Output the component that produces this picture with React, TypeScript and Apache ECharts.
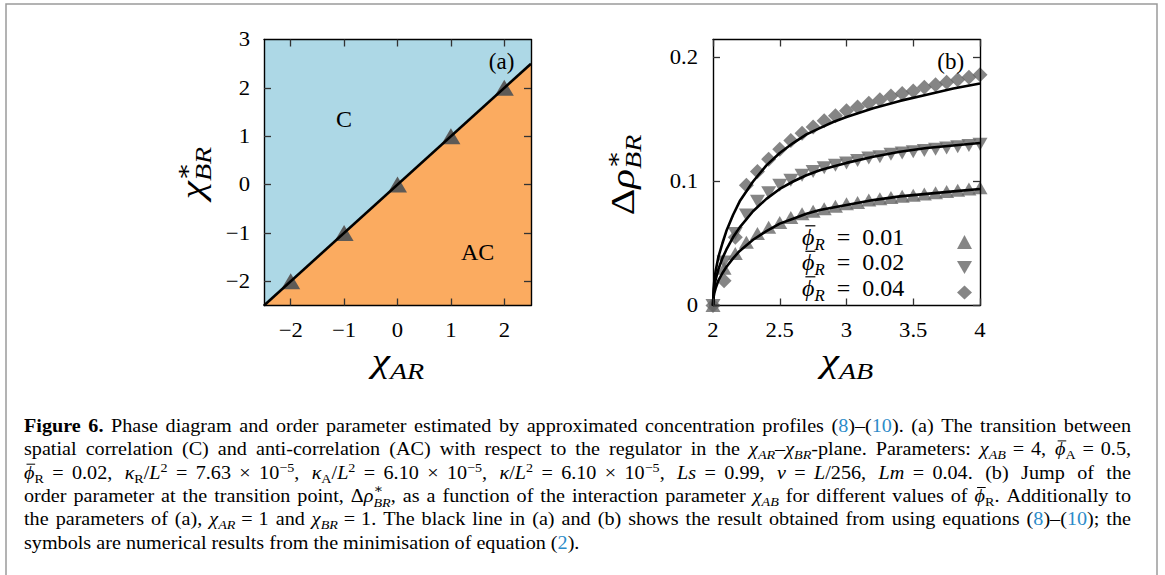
import React, { useEffect, useRef } from 'react';
import * as echarts from 'echarts';

const FONT = 'Liberation Serif, Times New Roman, DejaVu Serif, serif';
const LINK = '#2b8bc9';

// ---------- Panel (a) data ----------
const aXTicks = [-2, -1, 0, 1, 2];
const aYLabels = [-2, -1, 0, 1, 2, 3];
const aYTicks = [-2, -1, 0, 1, 2];
const aLineX = [-2.5, 2.5];
const aLineY = [-2.5, 2.5];
const aSymX = [-2, -1, 0, 1, 2];
const aSymY = [-2, -1, 0, 1, 2];

// ---------- Panel (b) data ----------
const bXTicks = [2, 2.5, 3, 3.5, 4];
const bYTicks = [0, 0.1, 0.2];
const bSymX = [2.0, 2.083, 2.167, 2.25, 2.333, 2.417, 2.5, 2.583, 2.667, 2.75, 2.833, 2.917, 3.0, 3.083, 3.167, 3.25, 3.333, 3.417, 3.5, 3.583, 3.667, 3.75, 3.833, 3.917, 4.0];
const bPhi001 = [0, 0.03, 0.042, 0.051, 0.058, 0.063, 0.067, 0.071, 0.074, 0.076, 0.078, 0.08, 0.082, 0.083, 0.085, 0.086, 0.087, 0.088, 0.089, 0.09, 0.091, 0.092, 0.093, 0.094, 0.095];
const bPhi002 = [0, 0.035, 0.058, 0.073, 0.084, 0.091, 0.097, 0.101, 0.105, 0.108, 0.111, 0.113, 0.115, 0.117, 0.119, 0.12, 0.122, 0.123, 0.124, 0.125, 0.126, 0.127, 0.128, 0.129, 0.13];
const bPhi004 = [0, 0.02, 0.055, 0.097, 0.108, 0.118, 0.126, 0.133, 0.139, 0.144, 0.149, 0.153, 0.157, 0.16, 0.163, 0.166, 0.169, 0.171, 0.173, 0.176, 0.178, 0.18, 0.182, 0.184, 0.186];
const bLineX = [2, 2.005, 2.01, 2.02, 2.04, 2.07, 2.1, 2.15, 2.2, 2.3, 2.4, 2.5, 2.6, 2.7, 2.8, 2.9, 3.0, 3.2, 3.4, 3.6, 3.8, 4.0];
const bLine001 = [0, 0.007, 0.01, 0.014, 0.02, 0.026, 0.031, 0.038, 0.044, 0.053, 0.06, 0.066, 0.07, 0.074, 0.077, 0.079, 0.081, 0.085, 0.088, 0.09, 0.092, 0.094];
const bLine002 = [0, 0.01, 0.015, 0.021, 0.029, 0.038, 0.045, 0.055, 0.063, 0.076, 0.086, 0.094, 0.1, 0.105, 0.109, 0.112, 0.115, 0.12, 0.124, 0.127, 0.129, 0.131];
const bLine004 = [0, 0.014, 0.02, 0.028, 0.039, 0.05, 0.06, 0.073, 0.084, 0.1, 0.113, 0.123, 0.131, 0.138, 0.143, 0.148, 0.152, 0.159, 0.165, 0.17, 0.175, 0.179];
const bNames = ['0.01', '0.02', '0.04'];

const zip = (xs: number[], ys: number[]) => xs.map((x, i) => [x, ys[i]]);

// ---------- tiny typesetter ----------
type Seg = { t: string; f?: 'r' | 'b' | 'i'; v?: 'sub' | 'sup'; c?: string; stack?: boolean; dy?: number; bar?: boolean };
let _ctx: CanvasRenderingContext2D | null = null;
function measure(text: string, font: string) {
  if (!_ctx) _ctx = document.createElement('canvas').getContext('2d');
  _ctx!.font = font;
  return _ctx!.measureText(text).width;
}
function fontStr(f: string, size: number) {
  return `${f === 'i' ? 'italic ' : ''}${f === 'b' ? 'bold ' : ''}${size}px ${FONT}`;
}
type Opts = { target?: number; align?: 'left' | 'center' | 'right'; sub?: number; subDy?: number; supDy?: number; color?: string; sx?: number };
function typeset(segs: Seg[], x0: number, base: number, fs: number, o: Opts = {}) {
  const subK = o.sub ?? 0.7;
  const sx = o.sx ?? 1;
  const toks: any[] = [];
  for (const s of segs) {
    const size = s.v ? fs * subK : fs;
    const font = fontStr(s.f || 'r', size);
    let dy = s.v === 'sub' ? (o.subDy ?? 0.2) * fs : s.v === 'sup' ? -(o.supDy ?? 0.38) * fs : 0;
    if (s.dy !== undefined) dy = s.dy * fs;
    for (const p of s.t.split(/( |\u00a0)/)) {
      if (p === '') continue;
      const sp = p === ' ' ? 1 : p === '\u00a0' ? 0.45 : 0;
      toks.push({ text: p, font, size, dy, w: measure(p === '\u00a0' ? ' ' : p, font) * sx, sp, color: s.c, stack: s.stack, bar: s.bar });
    }
  }
  let natural = 0;
  let pend = 0;
  for (const t of toks) {
    if (t.stack) { pend = Math.max(pend, t.w); continue; }
    if (pend) { natural += Math.max(pend, t.w); pend = 0; continue; }
    natural += t.w;
  }
  natural += pend;
  const wsum = toks.reduce((a, t) => a + t.sp, 0);
  const extra = o.target && wsum ? (o.target - natural) / wsum : 0;
  let x = x0;
  if (o.align === 'center') x = x0 - natural / 2;
  if (o.align === 'right') x = x0 - natural;
  const els: any[] = [];
  let stackW = 0;
  for (const t of toks) {
    if (t.sp) { x += t.w + extra * t.sp; continue; }
    els.push({
      type: 'text', x, y: base + t.dy - 0.3375 * t.size, scaleX: sx, z: 50, silent: true,
      style: { text: t.text, font: t.font, fill: t.color || o.color || '#000', textAlign: 'left', textVerticalAlign: 'middle', align: 'left', verticalAlign: 'middle' },
    });
    if (t.bar) {
      const yb = base + t.dy - 0.8 * t.size;
      els.push({
        type: 'line', z: 50, silent: true,
        shape: { x1: x + 0.14 * t.size, y1: yb, x2: x + t.w + 0.04 * t.size, y2: yb },
        style: { stroke: t.color || o.color || '#000', lineWidth: Math.max(1, 0.05 * t.size) },
      });
    }
    if (t.stack) { stackW = t.w; continue; }
    x += stackW ? Math.max(stackW, t.w) : t.w;
    stackW = 0;
  }
  return els;
}

// ---------- caption ----------
const NB = '\u00a0';
const EN = '\u2002';
const PHI: Seg = { t: '\u03d5', f: 'i', bar: true };
const captionLines: Seg[][] = [
  [
    { t: 'Figure 6.', f: 'b' },
    { t: ' Phase diagram and order parameter estimated by approximated concentration profiles (' },
    { t: '8', c: LINK }, { t: ')–(' }, { t: '10', c: LINK },
    { t: '). (a) The transition between' },
  ],
  [
    { t: 'spatial correlation (C) and anti-correlation (AC) with respect to the regulator in the ' },
    { t: 'χ', f: 'i' }, { t: 'AR', f: 'i', v: 'sub' }, { t: '–' }, { t: 'χ', f: 'i' }, { t: 'BR', f: 'i', v: 'sub' },
    { t: '-plane. Parameters: ' }, { t: 'χ', f: 'i' }, { t: 'AB', f: 'i', v: 'sub' }, { t: `${NB}=${NB}4, ` },
    PHI, { t: 'A', v: 'sub' }, { t: `${NB}=${NB}0.5,` },
  ],
  [
    PHI, { t: 'R', v: 'sub' }, { t: `${NB}=${NB}0.02, ` },
    { t: 'κ', f: 'i' }, { t: 'R', v: 'sub' }, { t: '/' }, { t: 'L', f: 'i' }, { t: '2', v: 'sup' }, { t: `${NB}=${NB}7.63${NB}×${NB}10` }, { t: '−5', v: 'sup' }, { t: ', ' },
    { t: 'κ', f: 'i' }, { t: 'A', v: 'sub' }, { t: '/' }, { t: 'L', f: 'i' }, { t: '2', v: 'sup' }, { t: `${NB}=${NB}6.10${NB}×${NB}10` }, { t: '−5', v: 'sup' }, { t: ', ' },
    { t: 'κ', f: 'i' }, { t: '/' }, { t: 'L', f: 'i' }, { t: '2', v: 'sup' }, { t: `${NB}=${NB}6.10${NB}×${NB}10` }, { t: '−5', v: 'sup' }, { t: ', ' },
    { t: 'Ls', f: 'i' }, { t: `${NB}=${NB}0.99, ` }, { t: 'ν', f: 'i' }, { t: `${NB}=${NB}` }, { t: 'L', f: 'i' }, { t: '/256, ' },
    { t: 'Lm', f: 'i' }, { t: `${NB}=${NB}0.04. (b) Jump of the` },
  ],
  [
    { t: 'order parameter at the transition point, Δ' }, { t: 'ρ', f: 'i' }, { t: '∗', v: 'sup', stack: true, dy: -0.5 }, { t: 'BR', f: 'i', v: 'sub', dy: 0.26 },
    { t: ', as a function of the interaction parameter ' }, { t: 'χ', f: 'i' }, { t: 'AB', f: 'i', v: 'sub' },
    { t: ' for different values of ' }, PHI, { t: 'R', v: 'sub' }, { t: '. Additionally to' },
  ],
  [
    { t: 'the parameters of (a), ' }, { t: 'χ', f: 'i' }, { t: 'AR', f: 'i', v: 'sub' }, { t: `${NB}=${NB}1 and ` },
    { t: 'χ', f: 'i' }, { t: 'BR', f: 'i', v: 'sub' }, { t: `${NB}=${NB}1. The black line in (a) and (b) shows the result obtained from using equations (` },
    { t: '8', c: LINK }, { t: ')–(' }, { t: '10', c: LINK }, { t: '); the' },
  ],
  [
    { t: 'symbols are numerical results from the minimisation of equation (' }, { t: '2', c: LINK }, { t: ').' },
  ],
];

const fmt = (v: number) => String(v).replace('-', '\u2212');

function axis(gridIndex: number, position: string, min: number, max: number, ticks: number[]) {
  return {
    type: 'value', gridIndex, position, min, max, z: 10,
    axisLine: { show: true, onZero: false, lineStyle: { color: '#000', width: 1.4 } },
    axisTick: { show: true, inside: true, length: 7, customValues: ticks, lineStyle: { color: '#333', width: 1.3 } },
    axisLabel: { show: false },
    splitLine: { show: false },
  };
}

function buildOption(): any {
  const grid = (left: number) => ({ left, top: 39.5, width: 267, height: 266, show: true, borderWidth: 0, backgroundColor: 'transparent' });
  const gA = grid(264);
  gA.backgroundColor = '#add8e6';
  const gB = grid(713);
  const symColor = '#666666';
  return {
    animation: false,
    backgroundColor: '#ffffff',
    grid: [gA, gB],
    xAxis: [
      axis(0, 'bottom', -2.5, 2.5, aXTicks),
      axis(0, 'top', -2.5, 2.5, aXTicks),
      axis(1, 'bottom', 2, 4, bXTicks),
      axis(1, 'top', 2, 4, bXTicks),
    ],
    yAxis: [
      axis(0, 'left', -2.5, 3, aYTicks),
      axis(0, 'right', -2.5, 3, aYTicks),
      axis(1, 'left', 0, 0.2145, bYTicks),
      axis(1, 'right', 0, 0.2145, bYTicks),
    ],
    legend: {
      show: true, orient: 'vertical', left: 952, top: 230, itemWidth: 15, itemHeight: 14, itemGap: 11.5,
      selectedMode: false, formatter: () => '', textStyle: { fontSize: 1 },
      data: [
        { name: bNames[0] },
        { name: bNames[1], icon: 'path://M0,0L10,0L5,8.66Z' },
        { name: bNames[2] },
      ],
    },
    series: [
      {
        type: 'line', xAxisIndex: 0, yAxisIndex: 0, data: zip(aLineX, aLineY), showSymbol: false, z: 1,
        lineStyle: { width: 0 }, areaStyle: { color: '#fbab60', opacity: 1, origin: 'start' }, silent: true,
      },
      {
        type: 'scatter', xAxisIndex: 0, yAxisIndex: 0, data: zip(aSymX, aSymY), symbol: 'triangle', symbolSize: [19, 16], z: 2,
        itemStyle: { color: '#555555', opacity: 0.95 }, silent: true,
      },
      {
        type: 'line', xAxisIndex: 0, yAxisIndex: 0, data: zip(aLineX, aLineY), showSymbol: false, z: 3,
        lineStyle: { color: '#000', width: 2.6 }, silent: true,
      },
      {
        name: bNames[0], type: 'scatter', xAxisIndex: 2, yAxisIndex: 2, data: zip(bSymX, bPhi001), symbol: 'triangle', symbolSize: [15, 13],
        itemStyle: { color: symColor }, clip: false, z: 2, silent: true,
      },
      {
        name: bNames[1], type: 'scatter', xAxisIndex: 2, yAxisIndex: 2, data: zip(bSymX, bPhi002), symbol: 'triangle', symbolRotate: 180, symbolSize: [15, 13],
        itemStyle: { color: symColor }, clip: false, z: 2, silent: true,
      },
      {
        name: bNames[2], type: 'scatter', xAxisIndex: 2, yAxisIndex: 2, data: zip(bSymX, bPhi004), symbol: 'diamond', symbolSize: [15, 15],
        itemStyle: { color: symColor }, clip: false, z: 2, silent: true,
      },
      ...[bLine001, bLine002, bLine004].map((ys) => ({
        type: 'line', xAxisIndex: 2, yAxisIndex: 2, data: zip(bLineX, ys), showSymbol: false, smooth: false, z: 3,
        lineStyle: { color: '#000', width: 2.6, join: 'round' }, silent: true,
      })),
    ],
  };
}

function buildGraphics(chart: any) {
  const els: any[] = [];
  const pA = (x: number, y: number) => chart.convertToPixel({ gridIndex: 0 }, [x, y]);
  const pB = (x: number, y: number) => chart.convertToPixel({ gridIndex: 1 }, [x, y]);
  const txt = (text: string, x: number, y: number, size: number, align = 'center', sx = 1) => ({
    type: 'text', x, y, z: 50, silent: true, scaleX: sx,
    style: { text, font: `${size}px ${FONT}`, fill: '#000', textAlign: align, textVerticalAlign: 'middle', align, verticalAlign: 'middle' },
  });
  // outer frame
  els.push({ type: 'rect', z: 0, silent: true, shape: { x: 6, y: 4, width: 1151, height: 640 }, style: { fill: 'none', stroke: '#9a9a9a', lineWidth: 1.5 } });
  // tick labels (positions from the axes' own scales)
  const TL = 21;
  aXTicks.forEach((v) => els.push(txt(fmt(v), chart.convertToPixel({ xAxisIndex: 0 }, v), 330, TL, 'center', 1.08)));
  aYLabels.forEach((v) => els.push(txt(fmt(v), 250, chart.convertToPixel({ yAxisIndex: 0 }, v), TL, 'right', 1.08)));
  bXTicks.forEach((v) => els.push(txt(fmt(v), chart.convertToPixel({ xAxisIndex: 2 }, v), 330, TL, 'center', 1.08)));
  bYTicks.forEach((v) => els.push(txt(fmt(v), 698, chart.convertToPixel({ yAxisIndex: 2 }, v), TL, 'right', 1.08)));
  // annotations
  const pc = pA(-1, 1.35);
  els.push(txt('C', pc[0], pc[1], 24));
  const pac = pA(1.5, -1.4);
  els.push(txt('AC', pac[0], pac[1], 24));
  const pa = pA(1.95, 2.55);
  els.push(txt('(a)', pa[0], pa[1], 23));
  const pb = pB(3.78, 0.197);
  els.push(txt('(b)', pb[0], pb[1], 23));
  // axis titles
  const tOpts = { align: 'center' as const, sub: 0.68, subDy: 0.2, supDy: 0.4, sx: 1.25 };
  els.push(...typeset([{ t: 'χ', f: 'i' }, { t: 'AR', f: 'i', v: 'sub' }], 398, 372, 33, tOpts));
  els.push(...typeset([{ t: 'χ', f: 'i' }, { t: 'AB', f: 'i', v: 'sub' }], 847, 372, 33, tOpts));
  els.push({
    type: 'group', x: 204, y: 173, rotation: Math.PI / 2,
    children: typeset([{ t: 'χ', f: 'i' }, { t: '∗', v: 'sup', stack: true }, { t: 'BR', f: 'i', v: 'sub' }], 0, 0, 33, tOpts),
  });
  els.push({
    type: 'group', x: 634, y: 175, rotation: Math.PI / 2,
    children: typeset([{ t: 'Δ' }, { t: 'ρ', f: 'i' }, { t: '∗', v: 'sup', stack: true }, { t: 'BR', f: 'i', v: 'sub' }], 0, 0, 33, tOpts),
  });
  // legend labels
  const rows = [245, 270.5, 296];
  bNames.forEach((n, i) => {
    els.push(...typeset([PHI, { t: 'R', f: 'i', v: 'sub' }, { t: `${EN}=${EN}${n}` }], 802, rows[i], 24, { sub: 0.7, subDy: 0.2 }));
  });
  // caption
  const capX = 24;
  const capTarget = 1107;
  captionLines.forEach((line, i) => {
    const last = i === captionLines.length - 1;
    els.push(...typeset(line, capX, 432 + i * 23.3, 18, { target: last ? undefined : capTarget, sub: 0.7, subDy: 0.22, supDy: 0.38, sx: 1.12 }));
  });
  return els;
}

export default function App() {
  const ref = useRef<HTMLDivElement>(null);
  useEffect(() => {
    const chart = echarts.init(ref.current!, null, { renderer: 'svg' });
    chart.setOption(buildOption());
    chart.setOption({ graphic: { elements: buildGraphics(chart) } });
    return () => chart.dispose();
  }, []);
  return <div ref={ref} style={{ position: 'fixed', left: 0, top: 0, width: 1165, height: 575, background: '#fff' }} />;
}
